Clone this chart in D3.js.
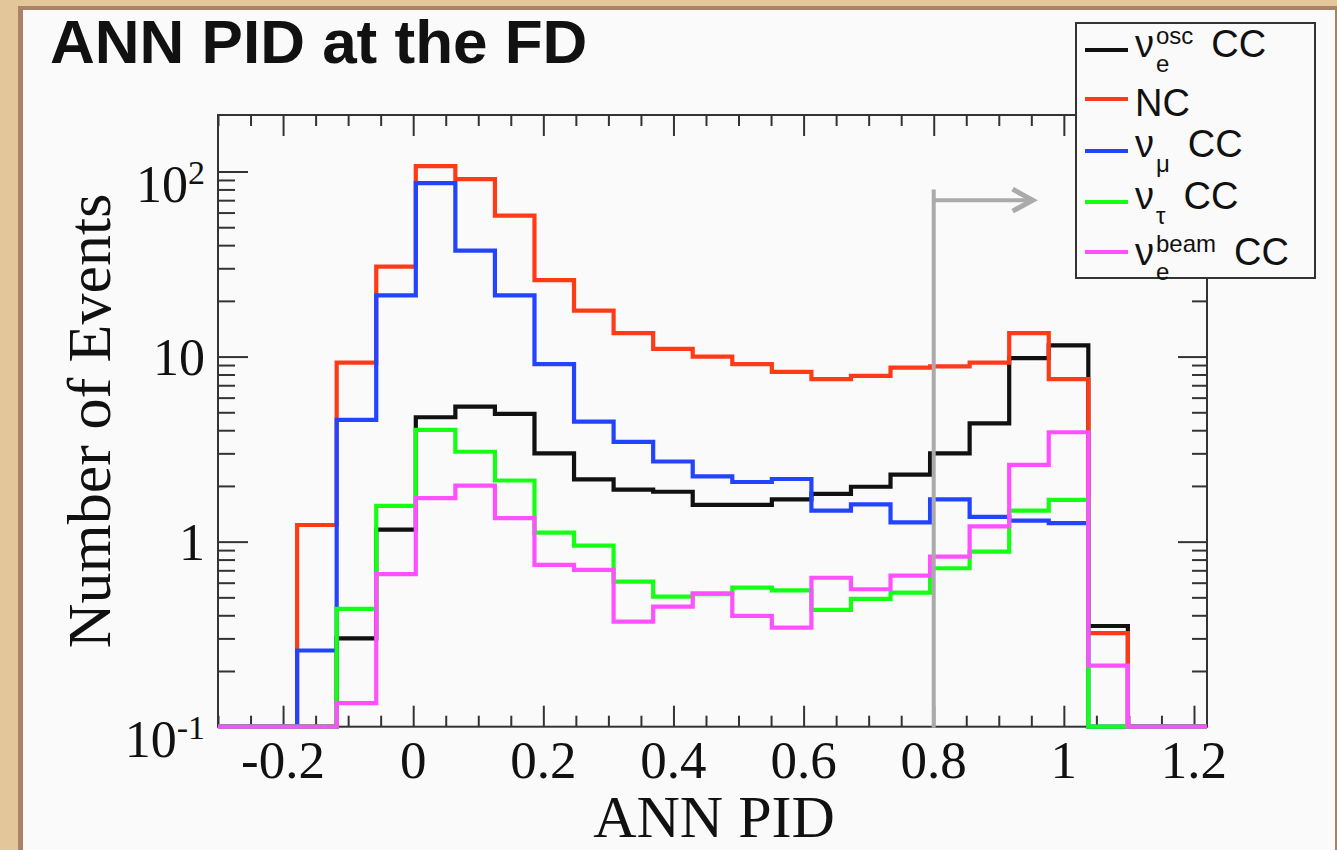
<!DOCTYPE html>
<html><head><meta charset="utf-8">
<script src="https://cdn.jsdelivr.net/npm/d3@7"></script>
<style>html,body{margin:0;padding:0;background:#e3c79a;overflow:hidden;} svg{display:block;}</style>
</head><body>
<script>
// ---------------- data ----------------
const binRange = [-0.3, 1.22];
const nBins = 25;
const seriesKeys = ["nueOsc", "nc", "numu", "nutau", "nueBeam"];
const seriesColors = ["#111111", "#ff3a17", "#2244ff", "#14ff14", "#ff50ff"];
const nueOsc  = [0,0,0,0.30,1.16,4.7,5.37,4.9,3.0,2.17,1.91,1.86,1.58,1.58,1.69,1.81,1.98,2.30,3.0,4.36,9.8,11.5,0.35,0,0];
const nc      = [0,0,1.23,9.28,30.6,107,91,57.8,25.9,17.7,13.4,11.0,10.0,9.1,8.27,7.55,7.87,8.72,8.85,9.28,13.4,7.55,0.32,0,0];
const numu    = [0,0,0.258,4.55,21.4,86.5,37.4,21.4,9.1,4.45,3.46,2.71,2.25,2.10,2.18,1.47,1.59,1.27,1.69,1.36,1.30,1.26,0,0,0];
const nutau   = [0,0,0,0.433,1.56,4.02,3.06,2.14,1.12,0.951,0.608,0.505,0.52,0.564,0.545,0.428,0.49,0.53,0.718,0.883,1.47,1.68,0,0,0];
const nueBeam = [0,0,0,0.134,0.668,1.72,2.01,1.34,0.748,0.703,0.37,0.445,0.526,0.397,0.343,0.638,0.553,0.655,0.83,1.21,2.60,3.90,0.214,0,0];

const legendBase = ["ν", "NC", "ν", "ν", "ν"];
const legendSup  = ["osc", "", "", "", "beam"];
const legendSub  = ["e", "", "μ", "τ", "e"];
const legendTail = ["CC", "", "CC", "CC", "CC"];

const xTickValues = [-0.2, 0, 0.2, 0.4, 0.6, 0.8, 1.0, 1.2];
const xTickLabels = ["-0.2", "0", "0.2", "0.4", "0.6", "0.8", "1", "1.2"];
const yTickValues = [0.1, 1, 10, 100];
const yTickBase = ["10", "1", "10", "10"];
const yTickExp  = ["-1", "", "", "2"];
const yMinorValues = [0.2,0.3,0.4,0.5,0.6,0.7,0.8,0.9,2,3,4,5,6,7,8,9,20,30,40,50,60,70,80,90];
const yDomain = [0.1, 202];
const cutValue = 0.8;
const arrowEnd = 0.952;
const arrowLevel = 70;
const cutTop = 80;

const titleText = "ANN PID at the FD";
const xTitle = "ANN PID";
const yTitle = "Number of Events";

// ---------------- layout ----------------
const W = 1337, H = 850;
const L = 218, R = 1207, T = 115, B = 726.7;
const serif = "'Liberation Serif','Times New Roman',serif";
const sans = "'Liberation Sans',Arial,sans-serif";
const axisColor = "#333";

const svg = d3.select("body").append("svg").attr("width", W).attr("height", H);
svg.append("rect").attr("width", W).attr("height", H).attr("fill", "#e3c79a");
svg.append("rect").attr("x", 18).attr("y", 6).attr("width", W - 18).attr("height", H).attr("fill", "#a9826a");
svg.append("rect").attr("x", 23).attr("y", 10).attr("width", 1312).attr("height", H).attr("fill", "#fafafa");

const x = d3.scaleLinear().domain(binRange).range([L, R]);
const y = d3.scaleLog().domain(yDomain).range([B, T]);

// minor x ticks every 0.05
const xMinor = d3.range(0, 31).map(i => +(-0.3 + i * 0.05).toFixed(2)).filter(v => !xTickValues.some(t => Math.abs(t - v) < 1e-6));

function styleAxis(g) {
  g.select(".domain").remove();
  g.selectAll("line").attr("stroke", axisColor).attr("stroke-width", 2);
  g.selectAll("text").remove();
}
// bottom
svg.append("g").attr("transform", `translate(0,${B})`).call(d3.axisBottom(x).tickValues(xMinor).tickSize(-11).tickSizeOuter(0)).call(styleAxis);
svg.append("g").attr("transform", `translate(0,${B})`).call(d3.axisBottom(x).tickValues(xTickValues).tickSize(-21).tickSizeOuter(0)).call(styleAxis);
// top
svg.append("g").attr("transform", `translate(0,${T})`).call(d3.axisTop(x).tickValues(xMinor).tickSize(-11).tickSizeOuter(0)).call(styleAxis);
svg.append("g").attr("transform", `translate(0,${T})`).call(d3.axisTop(x).tickValues(xTickValues).tickSize(-21).tickSizeOuter(0)).call(styleAxis);
// left
svg.append("g").attr("transform", `translate(${L},0)`).call(d3.axisLeft(y).tickValues(yMinorValues).tickSize(-17).tickSizeOuter(0)).call(styleAxis);
svg.append("g").attr("transform", `translate(${L},0)`).call(d3.axisLeft(y).tickValues(yTickValues).tickSize(-30).tickSizeOuter(0)).call(styleAxis);
// right
svg.append("g").attr("transform", `translate(${R},0)`).call(d3.axisRight(y).tickValues(yMinorValues).tickSize(-15).tickSizeOuter(0)).call(styleAxis);
svg.append("g").attr("transform", `translate(${R},0)`).call(d3.axisRight(y).tickValues(yTickValues).tickSize(-29).tickSizeOuter(0)).call(styleAxis);

// frame
svg.append("rect").attr("x", L).attr("y", T).attr("width", R - L).attr("height", B - T)
  .attr("fill", "none").attr("stroke", axisColor).attr("stroke-width", 2);

// histograms
const edges = d3.range(nBins + 1).map(i => binRange[0] + i * (binRange[1] - binRange[0]) / nBins);
const seriesData = { nueOsc, nc, numu, nutau, nueBeam };
const line = d3.line().x(d => x(d[0])).y(d => y(Math.max(d[1], yDomain[0]))).curve(d3.curveStepAfter);
seriesKeys.forEach((k, si) => {
  const vals = seriesData[k];
  const pts = vals.map((v, i) => [edges[i], v]).concat([[edges[nBins], vals[nBins - 1]]]);
  svg.append("path").attr("d", line(pts)).attr("fill", "none")
    .attr("stroke", seriesColors[si]).attr("stroke-width", 4.2).attr("stroke-linejoin", "miter");
});

// cut line and arrow
const gray = "#aaaaaa";
svg.append("line").attr("x1", x(cutValue)).attr("x2", x(cutValue)).attr("y1", y(cutTop)).attr("y2", B + 1)
  .attr("stroke", gray).attr("stroke-width", 4);
svg.append("line").attr("x1", x(cutValue)).attr("x2", x(arrowEnd) - 1).attr("y1", y(arrowLevel)).attr("y2", y(arrowLevel))
  .attr("stroke", gray).attr("stroke-width", 4);
const tipX = x(arrowEnd), tipY = y(arrowLevel);
svg.append("path").attr("d", `M${tipX - 20},${tipY - 11}L${tipX},${tipY}L${tipX - 20},${tipY + 11}`)
  .attr("fill", "none").attr("stroke", gray).attr("stroke-width", 5);

// axis tick labels
svg.append("g").selectAll("text").data(xTickValues).join("text")
  .attr("x", d => x(d)).attr("y", 778).attr("text-anchor", "middle")
  .attr("font-family", serif).attr("font-size", 53).attr("fill", "#111")
  .text((d, i) => xTickLabels[i]);

const yl = svg.append("g").selectAll("text").data(yTickValues).join("text")
  .attr("x", 205).attr("y", (d, i) => y(d) + 18 + (yTickExp[i] ? 12 : 0))
  .attr("text-anchor", "end").attr("font-family", serif).attr("font-size", 52).attr("fill", "#111");
yl.append("tspan").text((d, i) => yTickBase[i]);
yl.filter((d, i) => yTickExp[i]).append("tspan").attr("dy", -18).attr("font-size", 34)
  .text(d => yTickExp[yTickValues.indexOf(d)]);

// axis titles
svg.append("text").attr("x", 714).attr("y", 837).attr("text-anchor", "middle")
  .attr("font-family", serif).attr("font-size", 60).attr("fill", "#111").text(xTitle);
svg.append("text").attr("transform", "translate(110,421) rotate(-90)").attr("text-anchor", "middle")
  .attr("font-family", serif).attr("font-size", 62).attr("fill", "#111").text(yTitle);

// title
svg.append("text").attr("x", 50).attr("y", 63).attr("font-family", sans).attr("font-weight", "bold")
  .attr("font-size", 62).attr("fill", "#111").text(titleText);

// legend
const lg = svg.append("g");
lg.append("rect").attr("x", 1076).attr("y", 23).attr("width", 239).attr("height", 255)
  .attr("fill", "#fafafa").attr("stroke", axisColor).attr("stroke-width", 2);
const rowBase = [57, 116, 157, 209, 265];
const rowLine = [50, 99, 151, 202, 252];
legendBase.forEach((b, i) => {
  lg.append("line").attr("x1", 1085).attr("x2", 1128).attr("y1", rowLine[i]).attr("y2", rowLine[i])
    .attr("stroke", seriesColors[i]).attr("stroke-width", 4);
  const base = lg.append("text").attr("x", 1135).attr("y", rowBase[i]).attr("font-family", sans)
    .attr("font-size", 38).attr("fill", "#111").text(b);
  let xe = 1135 + base.node().getComputedTextLength();
  if (legendSup[i] || legendSub[i]) {
    const sx = xe + 2;
    let w = 0;
    if (legendSup[i]) {
      const t = lg.append("text").attr("x", sx).attr("y", rowBase[i] - 13).attr("font-family", sans)
        .attr("font-size", 24).attr("fill", "#111").text(legendSup[i]);
      w = Math.max(w, t.node().getComputedTextLength());
    }
    if (legendSub[i]) {
      const t = lg.append("text").attr("x", sx).attr("y", rowBase[i] + 15).attr("font-family", sans)
        .attr("font-size", 24).attr("fill", "#111").text(legendSub[i]);
      w = Math.max(w, t.node().getComputedTextLength());
    }
    xe = sx + w;
  }
  if (legendTail[i]) {
    lg.append("text").attr("x", xe + 18).attr("y", rowBase[i]).attr("font-family", sans)
      .attr("font-size", 38).attr("fill", "#111").text(legendTail[i]);
  }
});
</script>
</body></html>
